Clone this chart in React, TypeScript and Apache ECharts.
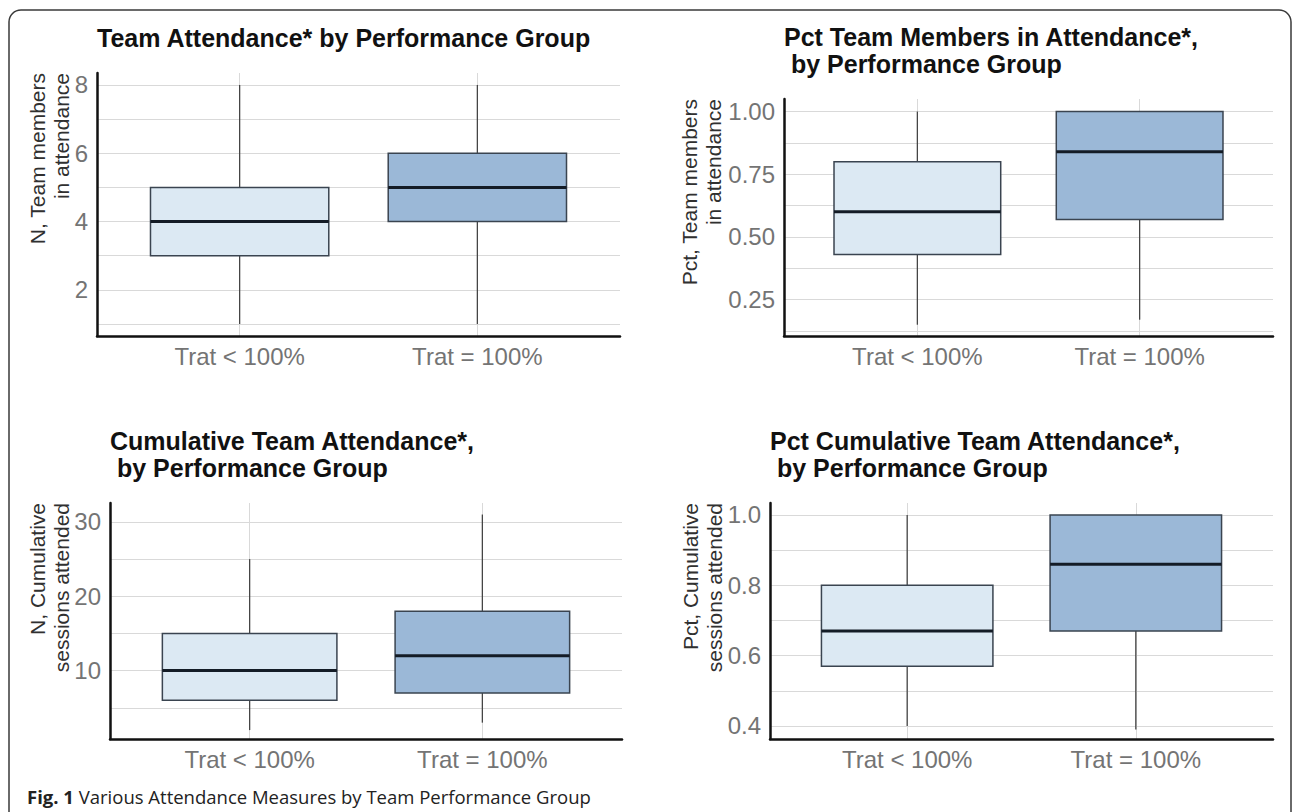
import { useEffect, useRef } from 'react';
import * as echarts from 'echarts';

// ---------- data ----------
const categories = ['Trat < 100%', 'Trat = 100%'];
const categoryPositions = [1, 2];

// each row: [lower whisker, Q1, median, Q3, upper whisker]
const teamAttendance = [
  [1, 3, 4, 5, 8],
  [1, 4, 5, 6, 8],
];
const pctTeamMembers = [
  [0.15, 0.43, 0.6, 0.8, 1.0],
  [0.17, 0.57, 0.84, 1.0, 1.0],
];
const cumulativeAttendance = [
  [2, 6, 10, 15, 25],
  [3, 7, 12, 18, 31],
];
const pctCumulative = [
  [0.4, 0.57, 0.67, 0.8, 1.0],
  [0.39, 0.67, 0.86, 1.0, 1.0],
];

const teamTickLabels = [2, 4, 6, 8];
const teamGridValues = [1, 2, 3, 4, 5, 6, 7, 8];
const pctTeamTickLabels = [0.25, 0.5, 0.75, 1.0];
const pctTeamGridValues = [0.125, 0.25, 0.375, 0.5, 0.625, 0.75, 0.875, 1.0];
const cumTickLabels = [10, 20, 30];
const cumGridValues = [5, 10, 15, 20, 25, 30];
const pctCumTickLabels = [0.4, 0.6, 0.8, 1.0];
const pctCumGridValues = [0.4, 0.5, 0.6, 0.7, 0.8, 0.9, 1.0];

const panelTitles = [
  'Team Attendance* by Performance Group',
  'Pct Team Members in Attendance*,\n\u00a0by Performance Group',
  'Cumulative Team Attendance*,\n\u00a0by Performance Group',
  'Pct Cumulative Team Attendance*,\n\u00a0by Performance Group',
];
const yAxisNames = [
  'N, Team members\nin attendance',
  'Pct, Team members\nin attendance',
  'N, Cumulative\nsessions attended',
  'Pct, Cumulative\nsessions attended',
];
const captionBold = 'Fig. 1';
const captionText = ' Various Attendance Measures by Team Performance Group';

// ---------- styles / layout ----------
const FONT = '"Liberation Sans", Arial, Helvetica, sans-serif';
const CAPTION_FONT = '"Open Sans", "Noto Sans", sans-serif';
const boxFills = ['#dce9f3', '#9bb8d7'];
const gridColor = '#d9d9d9';

const panels = [
  {
    stats: teamAttendance, labels: teamTickLabels, gridVals: teamGridValues, digits: 0,
    grid: { left: 97, top: 73, width: 523, height: 263 }, yMin: 0.65, yMax: 8.35,
    titleTop: 24, nameX: 49.5,
  },
  {
    stats: pctTeamMembers, labels: pctTeamTickLabels, gridVals: pctTeamGridValues, digits: 2,
    grid: { left: 784, top: 99, width: 489, height: 237 }, yMin: 0.105, yMax: 1.05,
    titleTop: 23, nameX: 701.5,
  },
  {
    stats: cumulativeAttendance, labels: cumTickLabels, gridVals: cumGridValues, digits: 0,
    grid: { left: 110, top: 503, width: 512, height: 236 }, yMin: 0.8, yMax: 32.55,
    titleTop: 427, nameX: 49,
  },
  {
    stats: pctCumulative, labels: pctCumTickLabels, gridVals: pctCumGridValues, digits: 1,
    grid: { left: 770, top: 503, width: 503, height: 236 }, yMin: 0.363, yMax: 1.034,
    titleTop: 427, nameX: 702.5,
  },
];

function renderBox(params: any, api: any) {
  const x = api.value(0);
  const p = [1, 2, 3, 4, 5].map((i) => api.coord([x, api.value(i)]));
  const halfW = Math.abs(api.size([0.75, 0])[0]) / 2;
  const cx = p[0][0];
  const fill = boxFills[params.dataIndex % boxFills.length];
  return {
    type: 'group',
    children: [
      {
        type: 'line',
        shape: { x1: cx, y1: p[0][1], x2: cx, y2: p[1][1] },
        style: { stroke: '#454545', lineWidth: 1.3 },
      },
      {
        type: 'line',
        shape: { x1: cx, y1: p[3][1], x2: cx, y2: p[4][1] },
        style: { stroke: '#454545', lineWidth: 1.3 },
      },
      {
        type: 'rect',
        shape: { x: cx - halfW, y: p[3][1], width: halfW * 2, height: p[1][1] - p[3][1] },
        style: { fill, stroke: '#3a4450', lineWidth: 1.5 },
      },
      {
        type: 'line',
        shape: { x1: cx - halfW, y1: p[2][1], x2: cx + halfW, y2: p[2][1] },
        style: { stroke: '#141c26', lineWidth: 3 },
      },
    ],
  };
}

export default function App() {
  const ref = useRef<HTMLDivElement>(null);

  useEffect(() => {
    if (!ref.current) return;
    const chart = echarts.init(ref.current, undefined, { renderer: 'svg' });

    const option: any = {
      animation: false,
      backgroundColor: '#ffffff',
      title: panels.map((pn, i) => ({
        text: panelTitles[i],
        left: pn.grid.left,
        top: pn.titleTop,
        padding: 0,
        textStyle: {
          fontFamily: FONT,
          fontSize: 25,
          fontWeight: 'bold',
          color: '#111111',
          lineHeight: 27,
        },
      })),
      grid: panels.map((pn) => ({ ...pn.grid, containLabel: false })),
      xAxis: panels.map((pn, i) => ({
        type: 'value',
        gridIndex: i,
        min: 0.4,
        max: 2.6,
        axisLine: { show: true, onZero: false, lineStyle: { color: '#111111', width: 2.5 } },
        axisTick: { show: false, customValues: categoryPositions },
        axisLabel: {
          customValues: categoryPositions,
          formatter: (v: number) => categories[categoryPositions.indexOf(v)] ?? '',
          fontFamily: FONT,
          fontSize: 24,
          color: '#747474',
          margin: 8,
        },
        splitLine: { show: true, lineStyle: { color: gridColor, width: 1 } },
        minorSplitLine: { show: false },
      })),
      yAxis: panels.map((pn, i) => ({
        type: 'value',
        gridIndex: i,
        min: pn.yMin,
        max: pn.yMax,
        axisLine: { show: true, onZero: false, lineStyle: { color: '#111111', width: 2.5 } },
        axisTick: { show: false, customValues: pn.gridVals },
        axisLabel: {
          customValues: pn.labels,
          formatter: (v: number) => v.toFixed(pn.digits),
          fontFamily: FONT,
          fontSize: 24,
          color: '#747474',
          margin: 9,
        },
        splitLine: { show: true, lineStyle: { color: gridColor, width: 1.2 } },
      })),
      series: panels.map((pn, i) => ({
        type: 'custom',
        xAxisIndex: i,
        yAxisIndex: i,
        renderItem: renderBox,
        encode: { x: 0, y: [1, 2, 3, 4, 5] },
        data: categoryPositions.map((pos, k) => [pos, ...pn.stats[k]]),
        silent: true,
        clip: false,
      })),
      graphic: [
        {
          type: 'rect',
          silent: true,
          z: -10,
          shape: { x: 9, y: 10, width: 1282, height: 900, r: 12 },
          style: { fill: 'none', stroke: '#3a3a3a', lineWidth: 1.5 },
        },
        ...panels.map((pn, i) => ({
          type: 'text',
          x: pn.nameX,
          y: pn.grid.top,
          rotation: Math.PI / 2,
          silent: true,
          style: {
            text: yAxisNames[i],
            fontFamily: FONT,
            fontSize: 21,
            lineHeight: 24,
            fill: '#303030',
            align: 'right',
            verticalAlign: 'middle',
          },
        })),
        {
          type: 'text',
          x: 27,
          y: 796,
          silent: true,
          style: {
            text: `{b|${captionBold}}${captionText}`,
            fontFamily: CAPTION_FONT,
            fontSize: 18.5,
            fill: '#222222',
            verticalAlign: 'middle',
            rich: {
              b: {
                fontFamily: CAPTION_FONT,
                fontSize: 18.5,
                fontWeight: 'bold',
                fill: '#222222',
              },
            },
          },
        },
      ],
    };

    chart.setOption(option);
    return () => chart.dispose();
  }, []);

  return (
    <div
      ref={ref}
      style={{ position: 'fixed', left: 0, top: 0, width: 1292, height: 812, background: '#fff' }}
    />
  );
}
